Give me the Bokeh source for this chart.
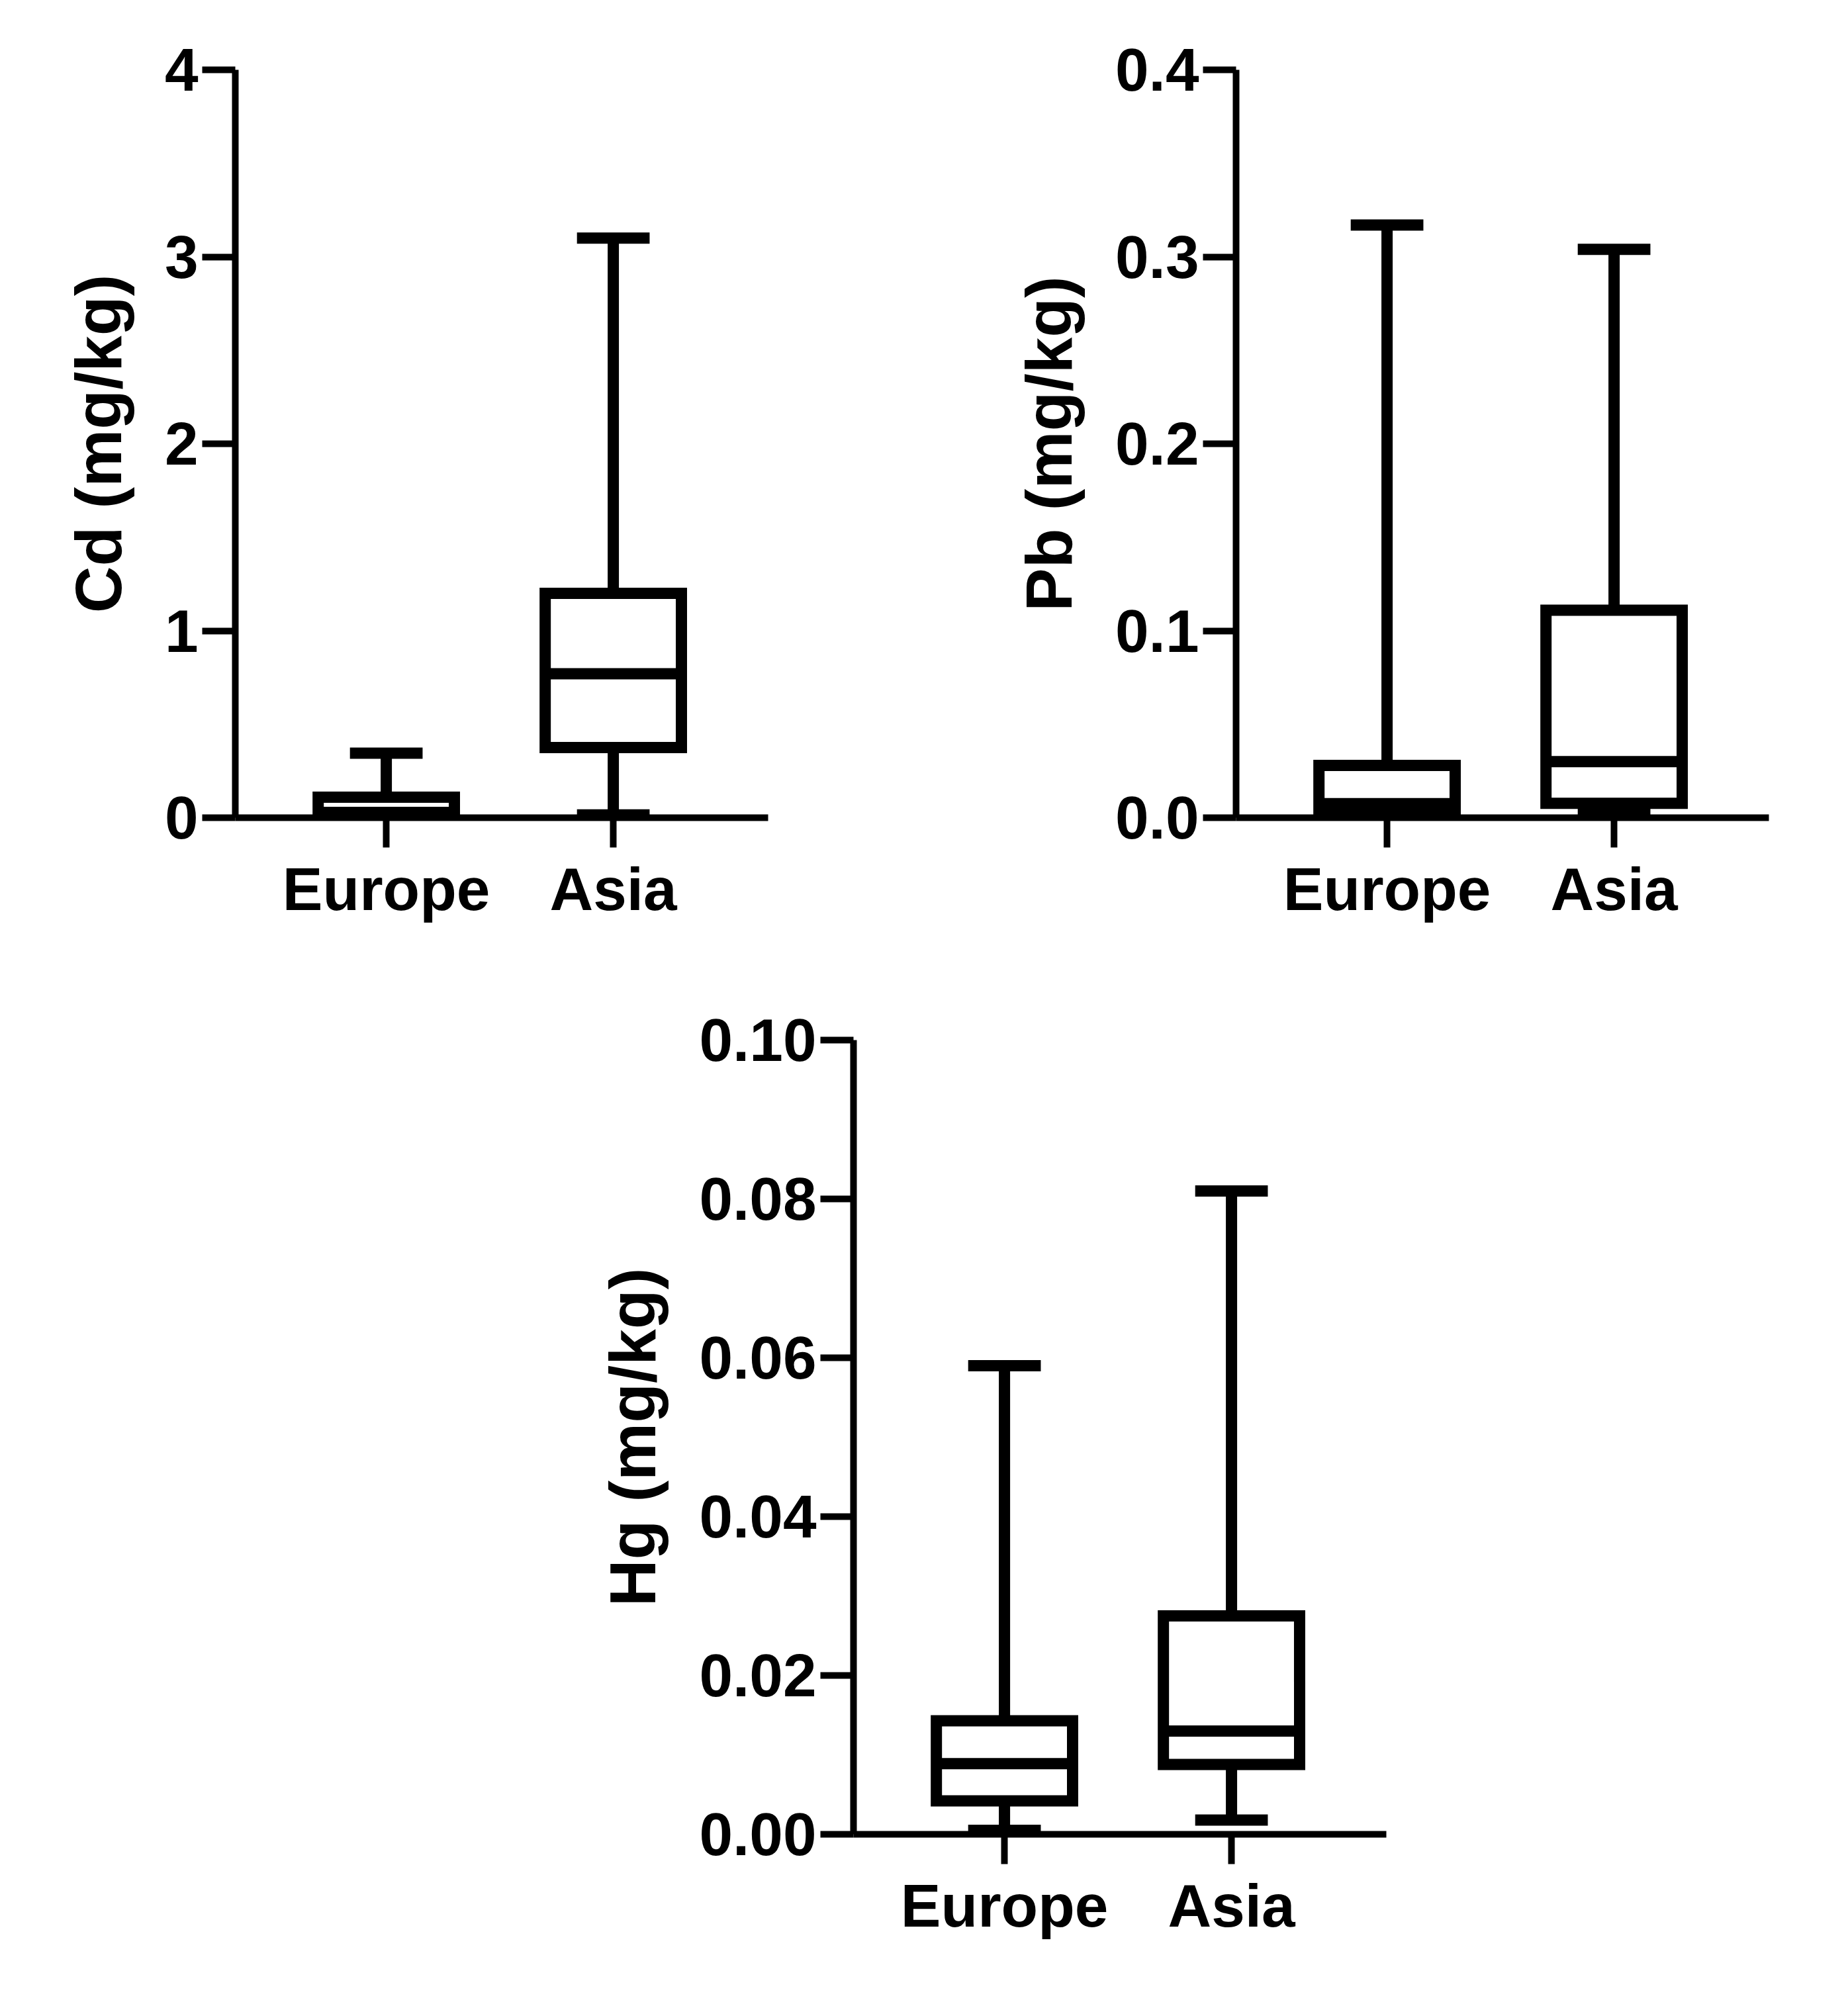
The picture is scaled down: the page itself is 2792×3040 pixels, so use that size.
from bokeh.plotting import figure
from bokeh.models import Range1d, FixedTicker, PrintfTickFormatter
from bokeh.layouts import column, row
from bokeh.embed import file_html
from bokeh.resources import INLINE

# ---- data ----
categories = ["Europe", "Asia"]

cd_min = [0.002, 0.015]
cd_q1 = [0.010, 0.375]
cd_med = [0.028, 0.77]
cd_q3 = [0.110, 1.20]
cd_max = [0.345, 3.10]

pb_min = [0.0005, 0.002]
pb_q1 = [0.003, 0.0077]
pb_med = [0.0075, 0.030]
pb_q3 = [0.028, 0.111]
pb_max = [0.317, 0.304]

hg_min = [0.0005, 0.0018]
hg_q1 = [0.0042, 0.0088]
hg_med = [0.0089, 0.0130]
hg_q3 = [0.0143, 0.0275]
hg_max = [0.059, 0.081]

cd_ticks = [0, 1, 2, 3, 4]
pb_ticks = [0.0, 0.1, 0.2, 0.3, 0.4]
hg_ticks = [0.0, 0.02, 0.04, 0.06, 0.08, 0.10]

FONT = "Liberation Sans"
LW = 17
AXW = 10
BOXW = 0.6
CAPW = 0.32


def make_fig(label, vmin, q1, med, q3, vmax, ticks, fmt,
             width, height, bl, bt, br, bb):
    p = figure(width=width, height=height,
               x_range=Range1d(0.335, 2.682),
               y_range=Range1d(ticks[0], ticks[-1]),
               output_backend="svg", toolbar_location=None,
               min_border=0, min_border_left=bl, min_border_top=bt,
               min_border_right=br, min_border_bottom=bb)
    p.outline_line_color = None
    p.grid.visible = False
    p.background_fill_color = "white"
    p.border_fill_color = "white"

    xs = [i + 1 for i in range(len(categories))]
    xl = [x - BOXW / 2 for x in xs]
    xr = [x + BOXW / 2 for x in xs]
    cl = [x - CAPW / 2 for x in xs]
    cr = [x + CAPW / 2 for x in xs]

    kw = dict(line_color="black", line_width=LW, line_cap="butt")
    # whiskers
    p.segment(xs, q3, xs, vmax, **kw)
    p.segment(xs, q1, xs, vmin, **kw)
    # caps
    p.segment(cl, vmax, cr, vmax, **kw)
    p.segment(cl, vmin, cr, vmin, **kw)
    # boxes
    p.vbar(x=xs, width=BOXW, top=q3, bottom=q1, fill_color="white",
           line_color="black", line_width=LW, line_join="miter")
    # medians
    p.segment(xl, med, xr, med, **kw)

    # x axis
    xa = p.xaxis[0]
    xa.ticker = FixedTicker(ticks=xs)
    xa.major_label_overrides = {x: c for x, c in zip(xs, categories)}
    # y axis
    ya = p.yaxis[0]
    ya.ticker = FixedTicker(ticks=ticks)
    ya.formatter = PrintfTickFormatter(format=fmt)
    ya.axis_label = label

    for ax in (xa, ya):
        ax.axis_line_width = AXW
        ax.axis_line_color = "black"
        ax.major_tick_line_width = AXW
        ax.major_tick_line_color = "black"
        ax.major_tick_in = 0
        ax.minor_tick_line_color = None
        ax.major_label_text_font = FONT
        ax.major_label_text_font_style = "bold"
        ax.major_label_text_font_size = "91px"
        ax.major_label_text_color = "black"
        ax.axis_label_text_font = FONT
        ax.axis_label_text_font_style = "bold"
        ax.axis_label_text_font_size = "98px"
        ax.axis_label_text_color = "black"
    xa.major_tick_out = 45
    xa.major_label_standoff = 12
    ya.major_tick_out = 50
    ya.major_label_standoff = 6
    ya.axis_label_standoff = 42
    return p


p1 = make_fig("Cd (mg/kg)", cd_min, cd_q1, cd_med, cd_q3, cd_max, cd_ticks, "%d",
              1260, 1435, 355, 105, 100, 200)
p2 = make_fig("Pb (mg/kg)", pb_min, pb_q1, pb_med, pb_q3, pb_max, pb_ticks, "%.1f",
              1512, 1435, 607, 105, 100, 200)
p3 = make_fig("Hg (mg/kg)", hg_min, hg_q1, hg_med, hg_q3, hg_max, hg_ticks, "%.2f",
              2194, 1536, 1289, 136, 100, 200)

layout = column(row(p1, p2), p3)
open("out.html", "w").write(file_html(layout, INLINE))
